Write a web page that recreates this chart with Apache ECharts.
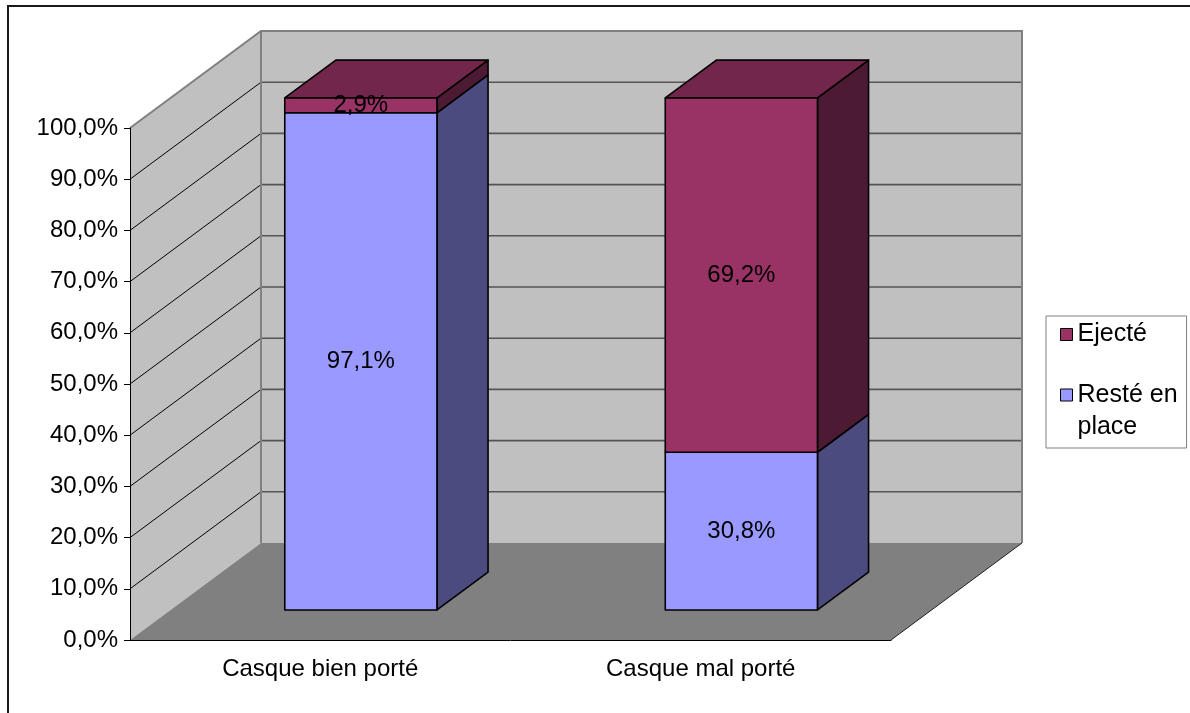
<!DOCTYPE html>
<html>
<head>
<meta charset="utf-8">
<script src="https://cdn.jsdelivr.net/npm/echarts@6/dist/echarts.min.js"></script>
<style>
  html, body { margin: 0; padding: 0; background: #ffffff; }
  #chart { width: 1190px; height: 713px; }
</style>
</head>
<body>
<div id="chart"></div>
<script>
// Share of helmets that stayed in place / were ejected, by how the helmet was worn
const categories = ['Casque bien porté', 'Casque mal porté'];
const resteEnPlace = [97.1, 30.8];
const ejecte = [2.9, 69.2];
const yTicks = [0, 10, 20, 30, 40, 50, 60, 70, 80, 90, 100];
const seriesNames = ['Resté en place', 'Ejecté'];

// 3D look: offset of the back plane relative to the front plane (pixels)
const DEPTH_X = 131;
const DEPTH_Y = -97;
// bars sit between these fractions of the depth, and take this fraction of a band
const BAR_FRONT = 0.31;
const BAR_BACK = 0.70;
const BAR_WIDTH = 0.4;

const FONT = 'Liberation Sans, Arial, sans-serif';
const fmtPct = v => v.toFixed(1).replace('.', ',') + '%';

const COLORS = {
  reste: { front: '#9999FF', side: '#4B4B7F', top: '#7373BF' },
  ejecte: { front: '#993366', side: '#4C1A33', top: '#73264B' }
};

// Walls, floor and gridlines of the 3D box, built from the grid rectangle and the value axis
function renderWalls(params, api) {
  const cs = params.coordSys;
  const fx0 = cs.x, fx1 = cs.x + cs.width;
  const fyTop = api.coord([0, yTicks[yTicks.length - 1]])[1];
  const fyBot = api.coord([0, yTicks[0]])[1];
  const bx0 = fx0 + DEPTH_X, bx1 = fx1 + DEPTH_X;
  const byTop = fyTop + DEPTH_Y, byBot = fyBot + DEPTH_Y;
  const edge = { stroke: '#808080', lineWidth: 2 };
  const children = [];

  // side wall
  children.push({ type: 'polygon', shape: { points: [[fx0, fyTop], [bx0, byTop], [bx0, byBot], [fx0, fyBot]] },
    style: { fill: '#C0C0C0' } });
  // back wall
  children.push({ type: 'rect', shape: { x: bx0, y: byTop, width: bx1 - bx0, height: byBot - byTop },
    style: { fill: '#C0C0C0' } });
  // floor
  children.push({ type: 'polygon', shape: { points: [[fx0, fyBot], [fx1, fyBot], [bx1, byBot], [bx0, byBot]] },
    style: { fill: '#808080' } });

  // gridlines
  yTicks.forEach(v => {
    if (v === yTicks[0] || v === yTicks[yTicks.length - 1]) return;
    const y = api.coord([0, v])[1];
    children.push({ type: 'line', shape: { x1: bx0, y1: y + DEPTH_Y, x2: bx1, y2: y + DEPTH_Y },
      style: { stroke: '#555555', lineWidth: 1.6 } });
    children.push({ type: 'line', shape: { x1: fx0, y1: y, x2: bx0, y2: y + DEPTH_Y },
      style: { stroke: '#000000', lineWidth: 1 } });
  });

  // wall edges
  children.push({ type: 'polyline', shape: { points: [[fx0, fyTop], [bx0, byTop], [bx1, byTop], [bx1, byBot]] },
    style: Object.assign({ fill: null }, edge) });
  children.push({ type: 'line', shape: { x1: bx0, y1: byTop, x2: bx0, y2: byBot }, style: edge });
  children.push({ type: 'line', shape: { x1: fx1, y1: fyBot, x2: bx1, y2: byBot },
    style: { stroke: '#202020', lineWidth: 1 } });

  return { type: 'group', children: children };
}

// One stacked 3D column segment: front face, right side, optional top, and its value label
function makeBarRenderer(colors, isTop) {
  return function (params, api) {
    const idx = api.value(0);
    const base = api.value(1);
    const top = api.value(2);
    const val = api.value(3);
    const band = api.size([1, 0])[0];
    const cx = api.coord([idx, 0])[0];
    const w = band * BAR_WIDTH;
    const ox = DEPTH_X * BAR_FRONT, oy = DEPTH_Y * BAR_FRONT;
    const dx = DEPTH_X * (BAR_BACK - BAR_FRONT), dy = DEPTH_Y * (BAR_BACK - BAR_FRONT);
    const x0 = cx - w / 2 + ox, x1 = cx + w / 2 + ox;
    const y0 = api.coord([idx, base])[1] + oy;
    const y1 = api.coord([idx, top])[1] + oy;
    const line = { stroke: '#000000', lineWidth: 1.6, lineJoin: 'round' };
    const children = [];
    children.push({ type: 'polygon', shape: { points: [[x1, y0], [x1 + dx, y0 + dy], [x1 + dx, y1 + dy], [x1, y1]] },
      style: Object.assign({ fill: colors.side }, line) });
    if (isTop) {
      children.push({ type: 'polygon', shape: { points: [[x0, y1], [x0 + dx, y1 + dy], [x1 + dx, y1 + dy], [x1, y1]] },
        style: Object.assign({ fill: colors.top }, line) });
    }
    children.push({ type: 'rect', shape: { x: x0, y: y1, width: x1 - x0, height: y0 - y1 },
      style: Object.assign({ fill: colors.front }, line) });
    children.push({ type: 'text', z2: 10, style: {
      text: fmtPct(val), x: (x0 + x1) / 2, y: (y0 + y1) / 2,
      align: 'center', verticalAlign: 'middle',
      fontFamily: FONT, fontSize: 24, fill: '#000000' } });
    return { type: 'group', children: children };
  };
}

const resteData = resteEnPlace.map((v, i) => [i, 0, v, v]);
const ejecteData = ejecte.map((v, i) => [i, resteEnPlace[i], resteEnPlace[i] + v, v]);

const chart = echarts.init(document.getElementById('chart'), null, { renderer: 'canvas' });
chart.setOption({
  backgroundColor: '#ffffff',
  animation: false,
  graphic: [{
    type: 'rect', z: 100, silent: true,
    shape: { x: 8, y: 6, width: 1200, height: 720 },
    style: { fill: null, stroke: '#1a1a1a', lineWidth: 2 }
  }],
  grid: { left: 130, right: 299, top: 128, bottom: 73, containLabel: false },
  legend: {
    orient: 'vertical',
    left: 1046, top: 316,
    padding: [6, 9, 5, 14],
    itemGap: 0,
    itemWidth: 12, itemHeight: 12,
    icon: 'rect',
    borderColor: '#808080', borderWidth: 1,
    backgroundColor: '#ffffff',
    selectedMode: false,
    itemStyle: { borderColor: '#000000', borderWidth: 1 },
    textStyle: { fontFamily: FONT, fontSize: 25, color: '#000000', lineHeight: 22 },
    // the two-line entry gets an empty leading line so its first line sits beside the swatch
    formatter: name => name === 'Resté en place' ? '\nResté en\nplace' : name,
    data: [
      { name: 'Ejecté' },
      { name: 'Resté en place', textStyle: { lineHeight: 32 } }
    ]
  },
  xAxis: {
    type: 'category',
    data: categories,
    z: 5,
    axisLine: { lineStyle: { color: '#000000', width: 1 } },
    axisTick: { length: 6, lineStyle: { color: '#000000' } },
    axisLabel: { fontFamily: FONT, fontSize: 24, color: '#000000', margin: 17 },
    splitLine: { show: false }
  },
  yAxis: {
    type: 'value',
    min: 0, max: 100, interval: 10,
    z: 5,
    axisLine: { show: true, lineStyle: { color: '#000000', width: 1 } },
    axisTick: { show: true, length: 6, lineStyle: { color: '#000000' } },
    axisLabel: { fontFamily: FONT, fontSize: 24, color: '#000000', margin: 12, formatter: v => fmtPct(v) },
    splitLine: { show: false }
  },
  series: [
    {
      type: 'custom', name: 'walls', z: 1, silent: true, clip: false,
      renderItem: renderWalls, data: [[0, 0]]
    },
    {
      type: 'custom', name: seriesNames[0], z: 2, clip: false,
      itemStyle: { color: COLORS.reste.front },
      encode: { x: 0, y: 2 },
      renderItem: makeBarRenderer(COLORS.reste, false), data: resteData
    },
    {
      type: 'custom', name: seriesNames[1], z: 2, clip: false,
      itemStyle: { color: COLORS.ejecte.front },
      encode: { x: 0, y: 2 },
      renderItem: makeBarRenderer(COLORS.ejecte, true), data: ejecteData
    }
  ]
});
</script>
</body>
</html>
